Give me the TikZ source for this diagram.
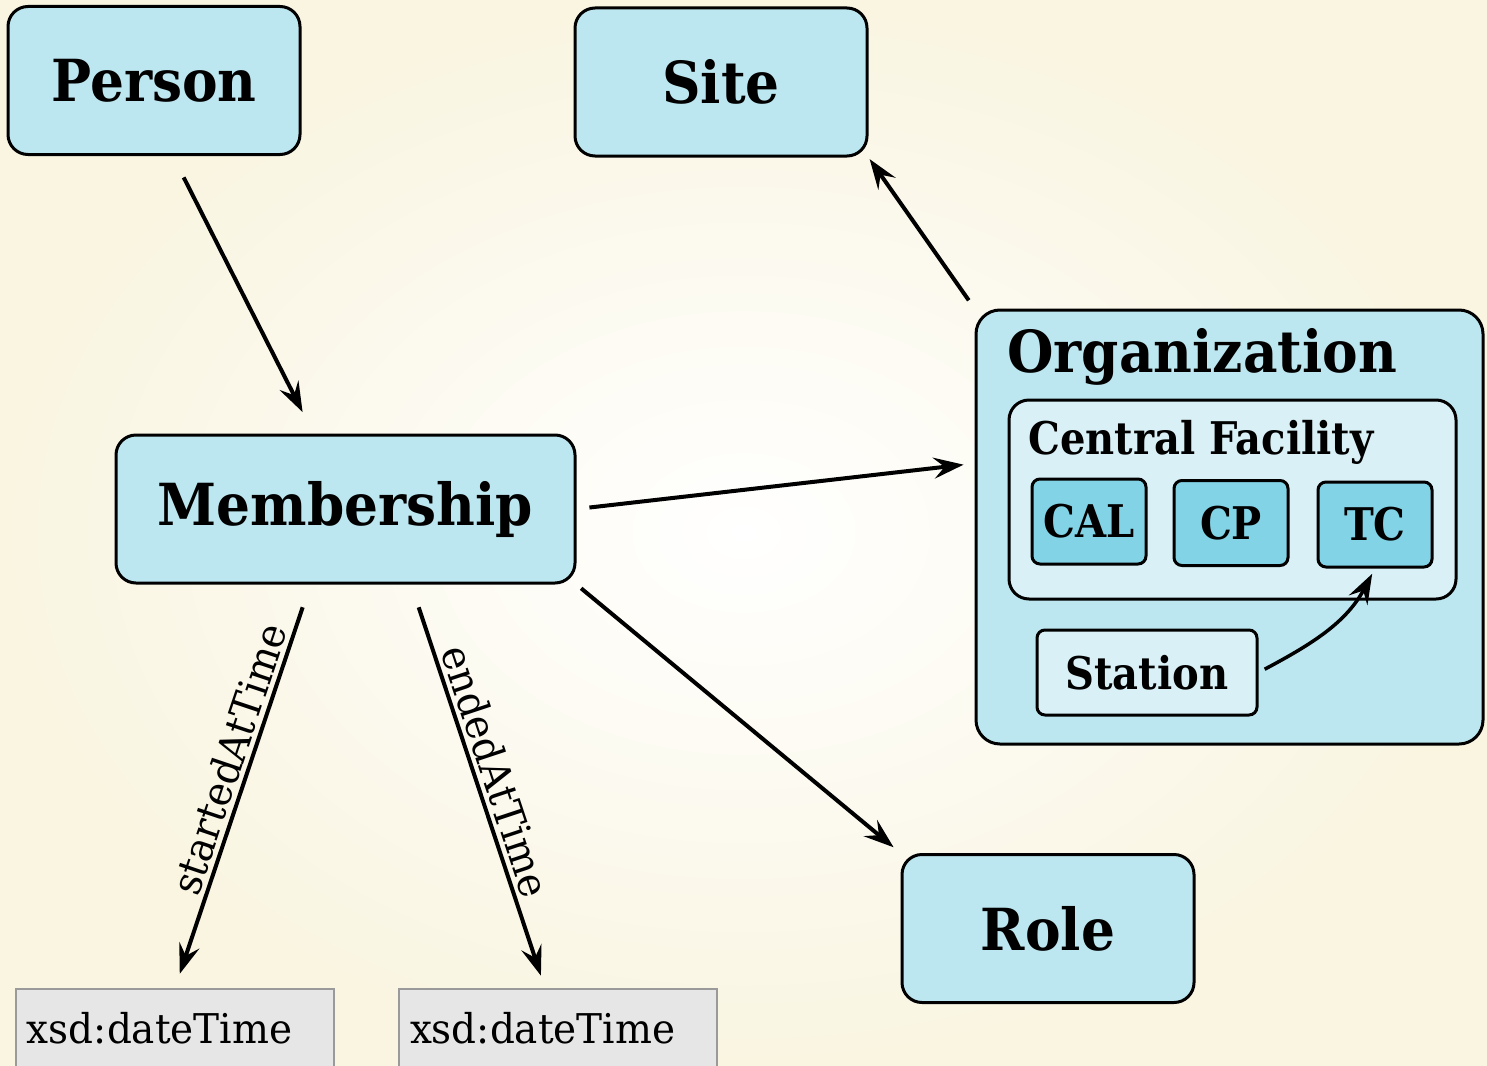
\documentclass[tikz,border=0pt]{standalone}
\usepackage{fontspec}
\setmainfont{DejaVu Serif}[FakeStretch=0.95]
\newfontfamily\titlefont{DejaVu Serif}[FakeStretch=0.92]
\newfontfamily\unitfont{DejaVu Serif}[FakeStretch=0.89]
\usetikzlibrary{arrows.meta}
\definecolor{bgCream}{HTML}{F9F5E1}
\definecolor{boxBlue}{HTML}{BDE7F0}
\definecolor{paleBlue}{HTML}{D9F1F6}
\definecolor{unitBlue}{HTML}{82D3E5}
\definecolor{litGray}{HTML}{E6E6E6}
\definecolor{litEdge}{HTML}{9A9A9A}
\begin{document}
\begin{tikzpicture}[x=1pt, y=-1pt,
    classStyle/.style={rectangle, rounded corners=20pt, draw, line width=3pt, fill=boxBlue, minimum width=292pt, minimum height=148pt, font=\titlefont\fontsize{58}{60}\selectfont\bfseries},
    groupStyle/.style={rectangle, rounded corners=#1, draw, line width=3pt},
    unitStyle/.style={rectangle, rounded corners=8pt, draw, line width=3pt, fill=unitBlue, minimum width=114pt, minimum height=85pt, font=\unitfont\fontsize{45}{47}\selectfont\bfseries},
    literalStyle/.style={rectangle, draw=litEdge, line width=2pt, fill=litGray, anchor=north west, text width=296pt, align=left, inner xsep=11pt, inner ysep=23pt, text height=31pt, text depth=40pt, font=\fontsize{41}{43}\selectfont},
    arrowStyle/.style={line width=4pt, -{Stealth[length=30pt, width=21pt, inset=11pt]}},
    labelStyle/.style={font=\fontsize{41}{43}\selectfont, inner sep=4pt}]
    \useasboundingbox (0, 0) rectangle (1487, 1065);
    \shade[inner color=white, outer color=bgCream] (0, 0) rectangle (1487, 1065);

    \node[classStyle] (node_person) at ( 154,  80.5) {Person};
    \node[classStyle] (node_site)   at ( 721,  82)   {Site};
    \node[classStyle, minimum width=459pt] (node_member) at (345.5, 509) {Membership};
    \node[classStyle] (node_role)   at (1048, 928.5) {Role};

    \node[groupStyle=24pt, fill=boxBlue, minimum width=507pt, minimum height=434pt] (node_org) at (1229.5, 527) {};
    \node[anchor=base west, font=\titlefont\fontsize{58}{60}\selectfont\bfseries, inner sep=0pt] (node_org_title) at (1007, 372) {Organization};
    \node[groupStyle=20pt, fill=paleBlue, minimum width=447pt, minimum height=199pt] (node_cf) at (1232.5, 499.5) {};
    \node[anchor=base west, font=\unitfont\fontsize{45}{47}\selectfont\bfseries, inner sep=0pt] (node_cf_title) at (1028, 454) {Central Facility};
    \node[unitStyle] (node_cal) at (1089, 521.5) {CAL};
    \node[unitStyle] (node_cp)  at (1231, 523)   {CP};
    \node[unitStyle] (node_tc)  at (1375, 524.5) {TC};
    \node[unitStyle, fill=paleBlue, minimum width=220pt] (node_station) at (1147, 672.5) {Station};

    \node[literalStyle] (node_xsd1) at ( 15, 988) {xsd:dateTime};
    \node[literalStyle] (node_xsd2) at (398, 988) {xsd:dateTime};

    \draw[arrowStyle, shorten <=24pt, shorten >=24pt] (node_person.-76) -- (node_member.113);
    \draw[arrowStyle, shorten <=10pt, shorten >=2pt] (node_org.north west) -- (node_site.south east);
    \draw[arrowStyle, shorten <=13pt, shorten >=11pt] (node_member.east) -- (node_org.166);
    \draw[arrowStyle, shorten <=6pt, shorten >=9pt] (node_member.south east) -- (node_role.north west);
    \draw[arrowStyle, shorten <=24pt, shorten >=15pt] (node_member.-115) -- (node_xsd1.north)
        node[labelStyle, pos=0.45, sloped, above] {startedAtTime};
    \draw[arrowStyle, shorten <=24pt, shorten >=13pt] (node_member.-49) -- ([xshift=-13pt]node_xsd2.north)
        node[labelStyle, pos=0.48, sloped, above] {endedAtTime};
    \draw[arrowStyle, line width=3.5pt, shorten <=7pt, shorten >=6pt] (node_station.east) to[out=28, in=-118] (node_tc.south);
\end{tikzpicture}
\end{document}
